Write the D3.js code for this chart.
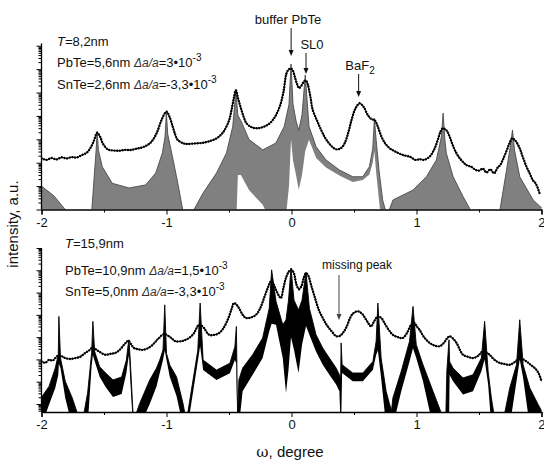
<!DOCTYPE html>
<html><head><meta charset="utf-8">
<script src="https://cdn.jsdelivr.net/npm/d3@7"></script>
<style>
body{margin:0;background:#fff}
svg text{font-family:"Liberation Sans",Arial,Helvetica,sans-serif;fill:#111}
</style>
</head><body>
<svg id="chart" width="544" height="462"></svg>
<script>
// ---------- data (omega in degree, intensity as log10 of a.u.) ----------
const xTicks = [-2, -1, 0, 1, 2];
const xMinorTicks = [-1.5, -0.5, 0.5, 1.5];
const xTickLabels = ["-2", "-1", "0", "1", "2"];

// Top panel: measured curve [omega, log10 I]
const measTop = [[-2.00,2.19],[-1.96,2.12],[-1.92,2.2],[-1.88,2.14],[-1.84,2.23],[-1.80,2.18],[-1.76,2.24],[-1.72,2.22],[-1.68,2.32],[-1.64,2.42],[-1.61,2.62],[-1.58,2.95],[-1.555,3.28],[-1.53,3.1],[-1.51,2.83],[-1.47,2.57],[-1.42,2.52],[-1.38,2.51],[-1.33,2.55],[-1.29,2.54],[-1.24,2.6],[-1.19,2.66],[-1.14,2.8],[-1.11,2.97],[-1.075,3.31],[-1.04,3.82],[-1.0,4.18],[-0.975,3.95],[-0.95,3.54],[-0.93,3.2],[-0.91,2.97],[-0.87,2.84],[-0.84,2.80],[-0.78,2.82],[-0.71,2.85],[-0.65,2.93],[-0.60,3.04],[-0.56,3.22],[-0.535,3.40],[-0.50,3.8],[-0.48,4.25],[-0.46,4.8],[-0.445,5.1],[-0.425,4.7],[-0.40,4.25],[-0.38,3.92],[-0.36,3.68],[-0.32,3.52],[-0.28,3.47],[-0.23,3.52],[-0.175,3.68],[-0.13,3.98],[-0.095,4.39],[-0.065,5.0],[-0.04,5.82],[-0.02,6.0],[-0.005,6.03],[0.01,5.95],[0.025,5.7],[0.045,5.35],[0.06,5.19],[0.08,5.3],[0.1,5.48],[0.115,5.51],[0.13,5.35],[0.15,4.85],[0.17,4.25],[0.2,3.85],[0.225,3.54],[0.26,3.15],[0.29,2.90],[0.33,2.66],[0.36,2.57],[0.395,2.62],[0.425,2.83],[0.455,3.3],[0.48,3.82],[0.51,4.3],[0.545,4.54],[0.575,4.4],[0.61,4.04],[0.64,3.86],[0.665,3.82],[0.69,3.55],[0.72,3.11],[0.75,2.82],[0.785,2.62],[0.84,2.45],[0.89,2.33],[0.95,2.25],[0.99,2.12],[1.025,2.15],[1.06,2.12],[1.105,2.26],[1.14,2.55],[1.17,2.97],[1.19,3.3],[1.21,3.47],[1.24,3.38],[1.265,3.11],[1.29,2.75],[1.32,2.40],[1.36,2.1],[1.40,1.90],[1.44,1.82],[1.47,1.7],[1.50,1.66],[1.53,1.75],[1.56,1.58],[1.59,1.72],[1.62,1.55],[1.65,1.80],[1.67,1.9],[1.69,2.12],[1.72,2.5],[1.745,2.85],[1.765,3.04],[1.79,2.95],[1.825,2.62],[1.85,2.25],[1.88,1.83],[1.905,1.55],[1.93,1.26],[1.955,1.1],[1.985,0.69]];

// Top panel: simulated curve fringe envelope [omega, log10 upper, log10 lower]
const simTop = [[-2.00,1.00,-1],[-1.90,0.58,-1],[-1.78,-0.2,-1],[-1.60,-0.2,-1],[-1.563,2.54,-1],[-1.555,3.33,-1],[-1.545,2.54,-1],[-1.514,1.83,-1],[-1.434,1.12,-1],[-1.30,0.92,-1],[-1.167,1.05,-1],[-1.086,1.56,-1],[-1.033,2.42,-1],[-1.012,3.1,-1],[-1.001,4.12,-1],[-0.99,3.21,-1],[-0.947,2.12,-1],[-0.907,1.05,-1],[-0.867,-0.1,-1],[-0.79,-0.1,-1],[-0.709,0.69,-1],[-0.60,1.56,-1],[-0.52,2.42,-1],[-0.47,3.55,-1],[-0.445,5.06,-1],[-0.429,4.02,1.47],[-0.405,3.80,1.47],[-0.34,2.99,0.83],[-0.23,2.55,0.2],[-0.125,2.84,-1],[-0.058,3.55,-1],[-0.02,4.5,1.0],[-0.004,6.22,3.0],[0.012,4.5,2.1],[0.036,3.8,1.47],[0.058,3.39,0.84],[0.084,4.04,1.47],[0.11,5.75,2.5],[0.14,3.55,2.98],[0.197,2.68,2.2],[0.276,2.12,1.8],[0.383,1.69,1.45],[0.49,1.40,1.18],[0.57,1.40,1.26],[0.623,1.83,1.5],[0.65,2.6,2.0],[0.663,3.9,2.5],[0.677,2.97,1.6],[0.70,1.68,0.4],[0.729,0.41,-1],[0.755,-0.1,-1],[0.776,-0.1,-1],[0.812,0.41,-1],[0.972,0.83,-1],[1.079,1.40,-1],[1.159,2.12,-1],[1.199,3.11,-1],[1.213,4.12,-1],[1.227,2.97,-1],[1.239,2.40,-1],[1.293,1.40,-1],[1.373,0.55,-1],[1.44,-0.1,-1],[1.665,-0.1,-1],[1.72,1.68,-1],[1.752,2.75,-1],[1.768,3.4,-1],[1.784,2.54,-1],[1.826,1.4,-1],[1.933,0.41,-1],[1.99,0.12,-1],[2.0,0.1,-1]];

// Bottom panel: measured curve [omega, log10 I]
const measBot = [[-2.0,1.91],[-1.97,1.85],[-1.94,1.98],[-1.91,1.95],[-1.89,2.06],[-1.86,2.19],[-1.83,2.12],[-1.81,2.06],[-1.77,2.02],[-1.73,2.06],[-1.69,2.12],[-1.65,2.29],[-1.62,2.4],[-1.59,2.54],[-1.565,2.45],[-1.54,2.36],[-1.49,2.21],[-1.45,2.25],[-1.41,2.29],[-1.38,2.4],[-1.35,2.59],[-1.325,2.75],[-1.305,2.84],[-1.28,2.65],[-1.26,2.51],[-1.22,2.45],[-1.19,2.43],[-1.15,2.5],[-1.11,2.66],[-1.08,2.85],[-1.06,2.96],[-1.02,3.14],[-0.98,3.04],[-0.95,2.9],[-0.926,2.81],[-0.88,2.82],[-0.846,2.88],[-0.81,3.0],[-0.78,3.18],[-0.76,3.4],[-0.74,3.56],[-0.72,3.52],[-0.70,3.41],[-0.66,3.11],[-0.62,3.1],[-0.58,3.18],[-0.545,3.4],[-0.51,3.78],[-0.48,4.25],[-0.46,4.53],[-0.44,4.45],[-0.42,4.30],[-0.39,4.0],[-0.365,3.86],[-0.325,3.88],[-0.285,4.00],[-0.25,4.3],[-0.22,4.75],[-0.19,5.2],[-0.165,5.50],[-0.145,5.4],[-0.125,5.13],[-0.10,4.85],[-0.085,4.75],[-0.065,5.2],[-0.045,5.65],[-0.02,5.95],[0,6.02],[0.02,5.85],[0.04,5.35],[0.06,5.15],[0.08,5.3],[0.1,5.7],[0.116,5.87],[0.135,5.75],[0.156,5.35],[0.175,5.0],[0.196,4.61],[0.22,4.2],[0.25,3.86],[0.275,3.6],[0.30,3.41],[0.33,3.2],[0.357,3.04],[0.385,3.05],[0.41,3.18],[0.44,3.45],[0.463,3.78],[0.49,4.05],[0.53,4.16],[0.565,4.05],[0.597,3.78],[0.62,3.58],[0.637,3.48],[0.66,3.7],[0.69,3.93],[0.72,3.85],[0.744,3.63],[0.775,3.35],[0.81,3.11],[0.85,3.0],[0.89,2.96],[0.925,3.2],[0.958,3.56],[0.984,3.63],[1.0,3.5],[1.024,3.33],[1.06,3.0],[1.105,2.74],[1.145,2.62],[1.185,2.59],[1.22,2.75],[1.245,2.95],[1.265,3.04],[1.29,2.95],[1.32,2.74],[1.345,2.45],[1.372,2.21],[1.41,2.12],[1.45,2.06],[1.49,2.15],[1.53,2.36],[1.56,2.3],[1.585,2.21],[1.62,2.0],[1.666,1.84],[1.70,1.8],[1.746,1.76],[1.79,1.9],[1.826,2.06],[1.855,2.0],[1.88,1.91],[1.915,1.75],[1.946,1.61],[1.975,1.4],[2.0,1.02]];

// Bottom panel: simulated curve fringe envelope [omega, log10 upper, log10 lower]
const simBot = [[-2.0,0.3,-1],[-1.94,0.79,-0.03],[-1.89,1.61,0.72],[-1.866,2.21,1.3],[-1.861,3.93,1.8],[-1.848,2.06,1.61],[-1.81,1.02,0.27],[-1.754,0.27,-1],[-1.714,-0.4,-1],[-1.66,-0.4,-1],[-1.631,0.5,-1],[-1.599,2.3,1.7],[-1.589,3.71,2.2],[-1.575,2.36,1.93],[-1.535,1.67,1.22],[-1.487,1.39,0.76],[-1.428,1.08,0.31],[-1.359,1.21,0.45],[-1.321,1.97,1.39],[-1.307,2.65,1.97],[-1.30,2.88,2.2],[-1.29,1.97,1.08],[-1.268,-0.4,-1],[-1.241,-0.4,-1],[-1.214,0.03,-1],[-1.134,1.08,0.0],[-1.08,1.61,0.78],[-1.054,1.97,1.39],[-1.028,2.42,1.97],[-1.014,4.45,2.4],[-1.0,2.27,1.97],[-0.974,1.75,1.22],[-0.92,1.22,0.36],[-0.867,0.0,-1],[-0.854,-0.4,-1],[-0.83,-0.4,-1],[-0.75,2.4,1.9],[-0.731,4.53,2.6],[-0.707,1.97,1.52],[-0.60,1.52,1.08],[-0.493,1.83,1.38],[-0.453,2.57,1.97],[-0.441,3.48,1.8],[-0.434,0.5,-1],[-0.429,-0.3,-1],[-0.421,1.08,-1],[-0.391,1.61,0.57],[-0.311,2.21,1.31],[-0.231,2.96,2.06],[-0.178,4.30,3.26],[-0.159,6.02,3.6],[-0.124,4.61,3.56],[-0.07,3.56,2.06],[-0.044,3.77,0.49],[-0.024,4.66,1.52],[-0.004,6.10,3.0],[0.02,4.66,2.42],[0.056,4.22,1.39],[0.084,4.66,2.65],[0.116,5.92,3.5],[0.143,4.30,3.11],[0.196,3.11,2.36],[0.25,2.51,1.76],[0.303,2.06,1.31],[0.357,1.61,0.87],[0.383,1.31,0.57],[0.393,1.08,-1],[0.397,2.74,-1],[0.405,1.76,1.39],[0.49,1.39,1.02],[0.571,1.39,1.02],[0.651,1.91,1.54],[0.677,2.81,2.2],[0.691,4.53,2.4],[0.717,2.06,1.17],[0.757,0.57,-1],[0.784,0.0,-1],[0.80,-0.3,-1],[0.811,0.27,-1],[0.878,1.47,0.57],[0.944,2.81,1.91],[0.972,4.38,2.5],[0.998,2.66,2.06],[1.052,1.76,1.02],[1.132,0.57,-1],[1.198,-0.4,-1],[1.235,-0.4,-1],[1.243,1.5,-1],[1.26,2.88,-1],[1.265,1.9,1.3],[1.292,1.61,1.02],[1.372,1.17,0.42],[1.452,1.31,0.57],[1.519,2.06,1.47],[1.545,3.71,2.0],[1.573,1.47,0.87],[1.599,0.27,-1],[1.618,-0.4,-1],[1.706,-0.4,-1],[1.746,0.72,-1],[1.80,1.76,1.02],[1.826,3.78,2.0],[1.853,1.76,1.17],[1.906,0.72,-1],[1.974,-0.03,-1],[2.0,-0.3,-1]];

// ---------- drawing ----------
const svg = d3.select("#chart");
const x = d3.scaleLinear().domain([-2, 2]).range([41.5, 541.5]);
const defs = svg.append("defs");

const panels = [
  {id:"top", y: d3.scaleLog().domain([1, Math.pow(10, 7.1)]).range([209.5, 43.4]),
   decades: d3.range(0, 8), meas: measTop, sim: simTop, simFill: "#808080", simEdge: "#4a4a4a",
   top: 43.4, bottom: 209.5},
  {id:"bot", y: d3.scaleLog().domain([Math.pow(10, -0.36), 1e7]).range([412, 248]),
   decades: d3.range(0, 8), meas: measBot, sim: simBot, simFill: "#000", simEdge: "#000",
   top: 248, bottom: 412}
];

panels.forEach(p => {
  const y = p.y;
  defs.append("clipPath").attr("id", "clip-" + p.id).append("rect")
    .attr("x", x(-2)).attr("y", p.top - 30).attr("width", x(2) - x(-2) + 2).attr("height", p.bottom - p.top + 30);

  const g = svg.append("g").attr("clip-path", `url(#clip-${p.id})`);
  const area = d3.area()
    .x(d => x(d[0]))
    .y0(d => y(Math.pow(10, d[2])))
    .y1(d => y(Math.pow(10, d[1])));
  g.append("path").datum(p.sim).attr("d", area).attr("fill", p.simFill).attr("stroke", "none");
  const edge = d3.line().x(d => x(d[0])).y(d => y(Math.pow(10, d[1])));
  g.append("path").datum(p.sim).attr("d", edge).attr("fill", "none")
    .attr("stroke", p.simEdge).attr("stroke-width", 0.9);

  const line = d3.line().curve(d3.curveCatmullRom.alpha(0.5))
    .x(d => x(d[0])).y(d => y(Math.pow(10, d[1])));
  g.append("path").datum(p.meas).attr("d", line).attr("fill", "none")
    .attr("stroke", "#111").attr("stroke-width", 1.0);
  g.append("path").datum(p.meas).attr("d", line).attr("fill", "none")
    .attr("stroke", "#000").attr("stroke-width", 2.4)
    .attr("stroke-linecap", "round").attr("stroke-dasharray", "0.01 2.7");

  // x axis
  const xa = svg.append("g").attr("transform", `translate(0,${p.bottom})`)
    .call(d3.axisBottom(x).tickValues(xTicks).tickSize(5).tickPadding(3)
      .tickFormat((d, i) => xTickLabels[i]));
  svg.append("g").attr("transform", `translate(0,${p.bottom})`)
    .call(d3.axisBottom(x).tickValues(xMinorTicks).tickSize(3).tickFormat(""))
    .call(s => s.select(".domain").remove());
  xa.select(".domain").attr("stroke-width", 1.3);
  xa.selectAll("text").attr("font-size", 13).attr("fill", "#111")
    .attr("font-family", "Liberation Sans, Arial, sans-serif");
  xa.selectAll(".tick").filter(d => d === 2).select("text").attr("text-anchor", "end").attr("dx", 3.5);

  // y axis (log, no labels)
  const ya = svg.append("g").attr("transform", `translate(${x(-2)},0)`)
    .call(d3.axisLeft(y).tickValues(p.decades.map(k => Math.pow(10, k))).tickSize(5).tickFormat(""));
  ya.select(".domain").attr("stroke-width", 1.3).attr("d", `M0,${p.bottom}V${p.top}`);
  const minor = [];
  p.decades.forEach(k => { for (let m = 2; m <= 9; m++) { const v = m * Math.pow(10, k); if (y(v) >= p.top) minor.push(v); } });
  if (p.id === "bot") { [0.5,0.6,0.7,0.8,0.9].forEach(v => minor.push(v)); }
  svg.append("g").attr("transform", `translate(${x(-2)},0)`)
    .call(d3.axisLeft(y).tickValues(minor).tickSize(3).tickFormat(""))
    .call(s => s.select(".domain").remove());
});

// ---------- annotations ----------
function infoBlock(x0, ys, T, pb, pbStrain, sn, snStrain) {
  const t1 = svg.append("text").attr("x", x0).attr("y", ys[0]).attr("font-size", 13);
  t1.append("tspan").attr("font-style", "italic").text("T");
  t1.append("tspan").text("=" + T);
  [[pb, pbStrain, ys[1]], [sn, snStrain, ys[2]]].forEach(([a, s, yy]) => {
    const t = svg.append("text").attr("x", x0).attr("y", yy).attr("font-size", 13);
    t.append("tspan").text(a + " ");
    t.append("tspan").attr("font-style", "italic").attr("font-size", 12).attr("fill", "#333").text("\u0394a/a");
    t.append("tspan").text("=" + s + "\u2022" + "10");
    t.append("tspan").attr("dy", -6).attr("font-size", 10).text("-3");
  });
}
infoBlock(57, [46, 66.5, 89], "8,2nm", "PbTe=5,6nm", "3", "SnTe=2,6nm ", "-3,3");
infoBlock(65, [248, 274.5, 295.5], "15,9nm", "PbTe=10,9nm", "1,5", "SnTe=5,0nm", "-3,3");

function arrow(xp, y1, y2, color) {
  svg.append("line").attr("x1", xp).attr("x2", xp).attr("y1", y1).attr("y2", y2 - 5)
    .attr("stroke", color).attr("stroke-width", 1);
  svg.append("path").attr("d", `M${xp - 2.5},${y2 - 6}L${xp + 2.5},${y2 - 6}L${xp},${y2}Z`).attr("fill", color);
}
const labels = [
  {text: "buffer PbTe", x: 288, y: 24, ax: x(-0.003), a1: 28, a2: 56},
  {text: "SL0", x: 312, y: 49, ax: x(0.116), a1: 53, a2: 74},
  {text: "BaF", sub: "2", x: 360, y: 70, ax: x(0.537), a1: 74, a2: 97},
  {text: "missing peak", x: 357, y: 269, ax: x(0.38), a1: 275, a2: 320, size: 12, color: "#444"}
];
labels.forEach(l => {
  const t = svg.append("text").attr("x", l.x).attr("y", l.y).attr("text-anchor", "middle")
    .attr("font-size", l.size || 13);
  t.append("tspan").text(l.text);
  if (l.sub) t.append("tspan").attr("dy", 4).attr("font-size", 10).text(l.sub);
  arrow(l.ax, l.a1, l.a2, l.color || "#111");
});

// axis titles
const xt = svg.append("text").attr("x", 290).attr("y", 457).attr("text-anchor", "middle").attr("font-size", 15);
xt.append("tspan").attr("font-family", "DejaVu Serif, serif").text("\u03C9");
xt.append("tspan").text(", degree");
svg.append("text").attr("transform", "translate(18,224) rotate(-90)").attr("text-anchor", "middle")
  .attr("font-size", 15).text("intensity, a.u.");
</script>
</body></html>
